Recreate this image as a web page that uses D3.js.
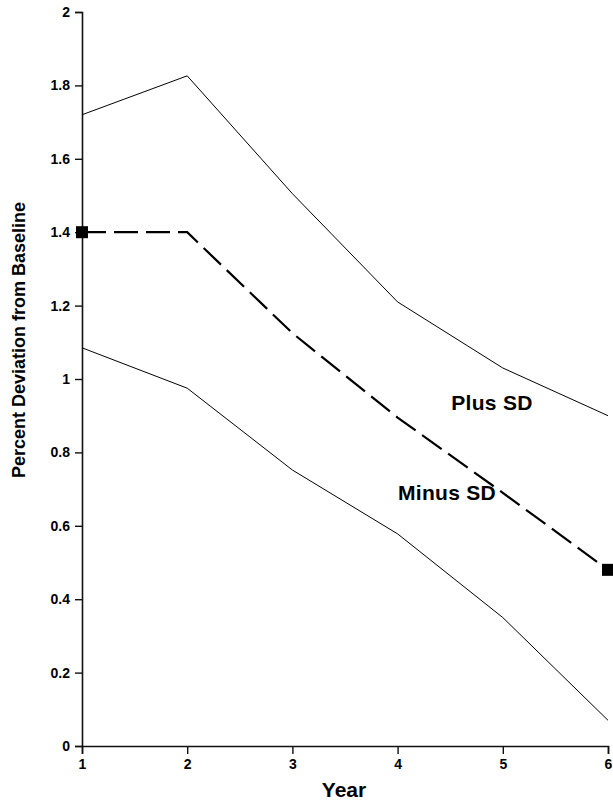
<!DOCTYPE html>
<html>
<head>
<meta charset="utf-8">
<script src="https://cdn.jsdelivr.net/npm/d3@7"></script>
<style>
  body { margin: 0; background: #fff; }
  svg { display: block; font-family: "Liberation Sans", Arial, sans-serif; }
</style>
</head>
<body>
<div id="chart"></div>
<script>
// Chart data
const years = [1, 2, 3, 4, 5, 6];
const plusSD = [1.72, 1.826, 1.505, 1.21, 1.03, 0.90];
const meanVals = [1.40, 1.40, 1.125, 0.895, 0.69, 0.48];
const minusSD = [1.085, 0.975, 0.752, 0.578, 0.35, 0.07];
const yTicks = [0, 0.2, 0.4, 0.6, 0.8, 1, 1.2, 1.4, 1.6, 1.8, 2];
const markerYears = [1, 6];

const width = 613;
const height = 805;
const margin = { top: 12, right: 5, bottom: 59, left: 82 };

const svg = d3.select('#chart')
    .append('svg')
    .attr('width', width)
    .attr('height', height);

const xScale = d3.scaleLinear()
    .domain([1, 6])
    .range([margin.left, width - margin.right]);

const yScale = d3.scaleLinear()
    .domain([0, 2])
    .range([height - margin.bottom, margin.top]);

// Axes
const xAxis = d3.axisBottom(xScale)
    .tickValues(years)
    .tickFormat(d3.format('d'))
    .tickSize(8)
    .tickPadding(5);

const yAxis = d3.axisLeft(yScale)
    .tickValues(yTicks)
    .tickFormat(d => String(+d.toFixed(1)))
    .tickSize(7)
    .tickPadding(5);

const gx = svg.append('g')
    .attr('transform', `translate(0, ${height - margin.bottom})`)
    .call(xAxis);

const gy = svg.append('g')
    .attr('transform', `translate(${margin.left}, 0)`)
    .call(yAxis);

[gx, gy].forEach(g => {
    g.select('.domain').attr('stroke', '#111').attr('stroke-width', 1.6);
    g.selectAll('.tick line').attr('stroke', '#111').attr('stroke-width', 1.4);
    g.selectAll('.tick text')
        .attr('fill', '#000')
        .attr('font-size', '14px')
        .attr('font-weight', 'bold');
});

// Lines
const line = d3.line()
    .x((d, i) => xScale(years[i]))
    .y(d => yScale(d));

svg.append('path')
    .datum(plusSD)
    .attr('fill', 'none')
    .attr('stroke', '#000')
    .attr('stroke-width', 1)
    .attr('d', line);

svg.append('path')
    .datum(minusSD)
    .attr('fill', 'none')
    .attr('stroke', '#000')
    .attr('stroke-width', 1)
    .attr('d', line);

svg.append('path')
    .datum(meanVals)
    .attr('fill', 'none')
    .attr('stroke', '#000')
    .attr('stroke-width', 2.2)
    .attr('stroke-dasharray', '24,8')
    .attr('d', line);

// Square markers at the end points of the mean line
const markerSize = 12;
svg.selectAll('.marker')
    .data(markerYears)
    .enter()
    .append('rect')
    .attr('class', 'marker')
    .attr('x', d => xScale(d) - markerSize / 2)
    .attr('y', d => yScale(meanVals[years.indexOf(d)]) - markerSize / 2)
    .attr('width', markerSize)
    .attr('height', markerSize)
    .attr('fill', '#000');

// Series labels
svg.append('text')
    .attr('x', 492)
    .attr('y', 410)
    .attr('text-anchor', 'middle')
    .attr('font-size', '21px')
    .attr('font-weight', 'bold')
    .attr('letter-spacing', '0.3px')
    .text('Plus SD');

svg.append('text')
    .attr('x', 447)
    .attr('y', 500)
    .attr('text-anchor', 'middle')
    .attr('font-size', '21px')
    .attr('font-weight', 'bold')
    .attr('letter-spacing', '0.3px')
    .text('Minus SD');

// Axis titles
svg.append('text')
    .attr('x', 344)
    .attr('y', 797)
    .attr('text-anchor', 'middle')
    .attr('font-size', '21px')
    .attr('font-weight', 'bold')
    .text('Year');

svg.append('text')
    .attr('transform', 'rotate(-90)')
    .attr('x', -340)
    .attr('y', 25)
    .attr('text-anchor', 'middle')
    .attr('font-size', '18px')
    .attr('font-weight', 'bold')
    .text('Percent Deviation from Baseline');
</script>
</body>
</html>
